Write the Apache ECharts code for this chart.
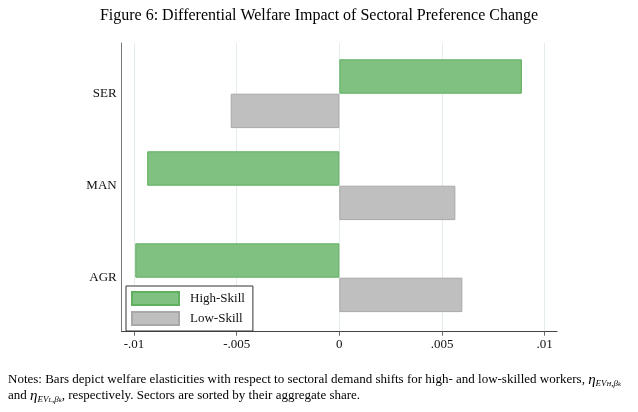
<!DOCTYPE html>
<html>
<head>
<meta charset="utf-8">
<script src="https://cdn.jsdelivr.net/npm/echarts@6/dist/echarts.min.js"></script>
<style>html,body{margin:0;padding:0;background:#fff;}#c{width:638px;height:412px;}</style>
</head>
<body>
<div id="c"></div>
<script>
// Data (bottom to top order of categories)
var categories = ['AGR', 'MAN', 'SER'];
var highSkill = [-0.00994, -0.00936, 0.00889];
var lowSkill = [0.00599, 0.00565, -0.00529];
var xTicks = [-0.01, -0.005, 0, 0.005, 0.01];
var xTickLabels = ['-.01', '-.005', '0', '.005', '.01'];

var FONT = 'Liberation Serif, Times New Roman, serif';
var XMIN = -0.0106, XMAX = 0.0106;

function fmt(v) {
  for (var i = 0; i < xTicks.length; i++) {
    if (Math.abs(v - xTicks[i]) < 1e-9) return xTickLabels[i];
  }
  return '';
}

var richMath = {
  eta: {fontFamily: FONT, fontSize: 15, fontStyle: 'italic', fill: '#000', lineHeight: 16},
  sub: {fontFamily: FONT, fontSize: 9, fontStyle: 'italic', fill: '#000', verticalAlign: 'bottom', lineHeight: 10},
  ss: {fontFamily: FONT, fontSize: 6.5, fontStyle: 'italic', fill: '#000', verticalAlign: 'bottom', lineHeight: 5}
};

var chart = echarts.init(document.getElementById('c'), null, {renderer: 'canvas'});
chart.setOption({
  animation: false,
  backgroundColor: '#fff',
  title: {
    text: 'Figure 6: Differential Welfare Impact of Sectoral Preference Change',
    left: 'center',
    top: 3,
    textStyle: {fontFamily: FONT, fontSize: 16, fontWeight: 'normal', color: '#000'}
  },
  legend: {
    orient: 'vertical',
    left: 126,
    top: 286,
    itemWidth: 47,
    itemHeight: 13,
    itemGap: 5,
    padding: [5, 8, 5, 5],
    borderColor: '#333',
    borderWidth: 1,
    backgroundColor: '#fff',
    icon: 'rect',
    textStyle: {fontFamily: FONT, fontSize: 13, color: '#111', padding: [0, 0, 0, 6]},
    data: ['High-Skill', 'Low-Skill']
  },
  grid: [
    {left: 121.7, right: 81, top: 47.7, height: 276, containLabel: false},
    {left: 121.7, right: 81, top: 43, bottom: 80.3, containLabel: false}
  ],
  xAxis: [
    {gridIndex: 0, type: 'value', min: XMIN, max: XMAX, show: false},
    {
      gridIndex: 1, type: 'value', min: XMIN, max: XMAX,
      axisLine: {show: true, onZero: false, lineStyle: {color: '#444', width: 1}},
      axisTick: {show: true, length: 4, lineStyle: {color: '#666'}, customValues: xTicks},
      axisLabel: {customValues: xTicks, formatter: fmt, fontFamily: FONT, fontSize: 13, color: '#111', margin: 6},
      splitLine: {show: true, lineStyle: {color: '#e4ecec', width: 1}}
    }
  ],
  yAxis: [
    {
      gridIndex: 0, type: 'category', data: categories,
      axisLine: {show: false}, axisTick: {show: false},
      axisLabel: {fontFamily: FONT, fontSize: 13, color: '#111', margin: 5}
    },
    {
      gridIndex: 1, type: 'value', min: 0, max: 1,
      axisLine: {show: true, onZero: false, lineStyle: {color: '#777', width: 1}},
      axisTick: {show: false}, axisLabel: {show: false}, splitLine: {show: false}
    }
  ],
  series: [
    {
      name: 'High-Skill', type: 'bar', xAxisIndex: 0, yAxisIndex: 0,
      data: highSkill, barWidth: 34.4, barGap: '0%',
      itemStyle: {color: '#80c080', borderColor: '#5fb05f', borderWidth: 1}
    },
    {
      name: 'Low-Skill', type: 'bar', xAxisIndex: 0, yAxisIndex: 0,
      data: lowSkill, barWidth: 34.4, barGap: '0%',
      itemStyle: {color: '#bfbfbf', borderColor: '#a8a8a8', borderWidth: 1}
    }
  ],
  graphic: [
    {
      type: 'text', left: 8, top: 372,
      style: {
        text: 'Notes: Bars depict welfare elasticities with respect to sectoral demand shifts for high- and low-skilled workers, {eta|η}{sub|EV}{ss|H}{sub|,β}{ss|k}',
        fontFamily: FONT, fontSize: 13, fill: '#000', lineHeight: 16,
        rich: richMath
      }
    },
    {
      type: 'text', left: 8, top: 388,
      style: {
        text: 'and {eta|η}{sub|EV}{ss|L}{sub|,β}{ss|k}, respectively. Sectors are sorted by their aggregate share.',
        fontFamily: FONT, fontSize: 13, fill: '#000', lineHeight: 16,
        rich: richMath
      }
    }
  ]
});
</script>
</body>
</html>
